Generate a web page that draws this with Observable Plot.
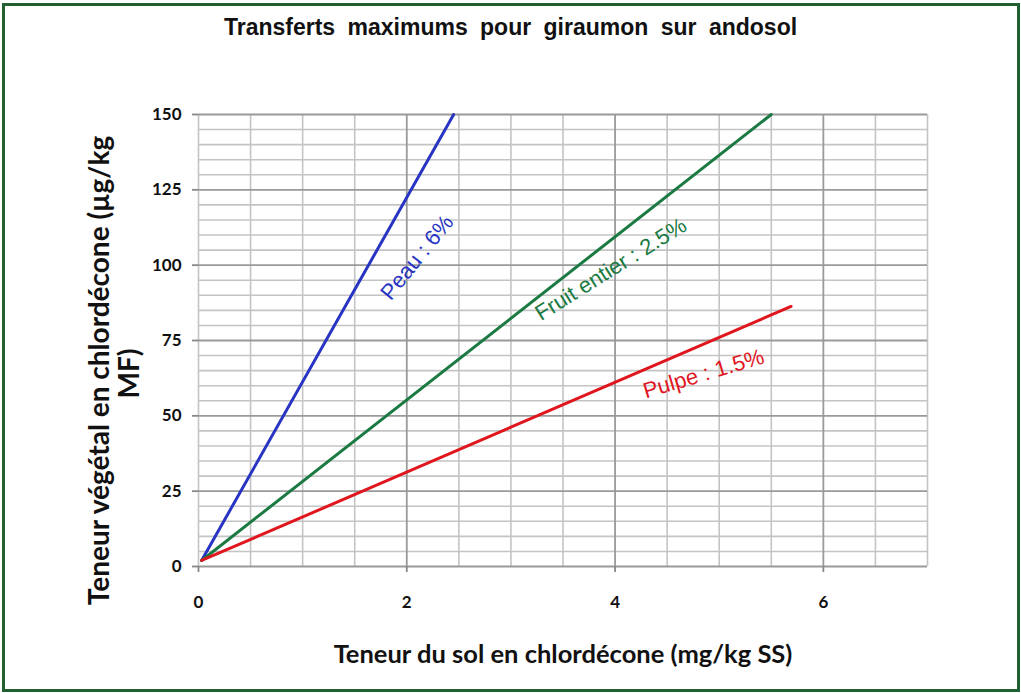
<!DOCTYPE html>
<html>
<head>
<meta charset="utf-8">
<script src="https://cdn.jsdelivr.net/npm/d3@7"></script>
<script src="https://cdn.jsdelivr.net/npm/@observablehq/plot@0.6"></script>
<style>
  html, body { margin: 0; padding: 0; background: #fff; }
  #wrap { position: relative; width: 1021px; height: 693px; overflow: hidden; background: #fff; }
  #border { position: absolute; left: 2px; top: 3px; width: 1012px; height: 683px; border: 3px solid #1f5f31; box-sizing: content-box; }
  #title { position: absolute; left: 0; width: 1021px; top: 14px; text-align: center; font-family: "Liberation Sans", Arial, sans-serif; font-weight: bold; font-size: 23px; word-spacing: 6px; color: #111; }
  #chart { position: absolute; left: 0; top: 0; }
  #chart g[aria-label="x-axis tick label"] text, #chart g[aria-label="y-axis tick label"] text { font-family: Lato, sans-serif; font-weight: bold; font-size: 17px; fill: #111; }
</style>
</head>
<body>
<div id="wrap">
  <div id="border"></div>
  <div id="chart"></div>
  <div id="title">Transferts maximums pour giraumon sur andosol</div>
</div>
<script>
// Data
const seriesNames = ["Peau : 6%", "Fruit entier : 2.5%", "Pulpe : 1.5%"];
const seriesColors = ["#2834c2", "#1a7a42", "#e0161f"];
const peauX = [0.03, 2.45];
const peauY = [2, 150];
const fruitX = [0.03, 5.5];
const fruitY = [2, 150];
const pulpeX = [0.03, 5.69];
const pulpeY = [2, 86.3];

// Label anchors (data coords) and angles
const labelX = [2.1, 3.96, 4.85];
const labelY = [102.5, 98.6, 63.9];
const labelAngle = [-51, -32, -16.5];

// Ticks / grid
const xTicks = [0, 2, 4, 6];
const xGridMinor = [0, 0.5, 1, 1.5, 2.5, 3, 3.5, 4.5, 5, 5.5, 6.5, 7];
const xGridMajor = [2, 4, 6];
const yTicks = [0, 25, 50, 75, 100, 125, 150];
const yGridMinor = [5, 10, 15, 20, 30, 35, 40, 45, 55, 60, 65, 70, 80, 85, 90, 95, 105, 110, 115, 120, 130, 135, 140, 145];

const xTitle = "Teneur du sol en chlordécone (mg/kg SS)";
const yTitle1 = "Teneur végétal en chlordécone (µg/kg";
const yTitle2 = "MF)";

const allX = [peauX, fruitX, pulpeX];
const allY = [peauY, fruitY, pulpeY];
const lines = [];
seriesNames.forEach((name, i) => {
  allX[i].forEach((x, j) => lines.push({ name, x, y: allY[i][j] }));
});
const labels = seriesNames.map((name, i) => ({ name, x: labelX[i], y: labelY[i] }));

const labelFont = "Liberation Sans, Arial, sans-serif";
const titleFont = "Lato, sans-serif";

const chart = Plot.plot({
  width: 1021,
  height: 693,
  marginLeft: 198,
  marginRight: 94,
  marginTop: 114,
  marginBottom: 127,
  x: { domain: [0, 7] },
  y: { domain: [0, 150] },
  color: { domain: seriesNames, range: seriesColors },
  style: { background: "transparent", overflow: "visible", fontFamily: titleFont },
  marks: [
    Plot.ruleX(xGridMinor, { stroke: "#c4c4c4", strokeWidth: 1.6 }),
    Plot.ruleY(yGridMinor, { stroke: "#c4c4c4", strokeWidth: 1.6 }),
    Plot.ruleX(xGridMajor, { stroke: "#9a9a9a", strokeWidth: 1.8 }),
    Plot.ruleY(yTicks, { stroke: "#9a9a9a", strokeWidth: 1.8 }),
    Plot.axisX({ ticks: xTicks, tickFormat: d => String(d), tickSize: 6, tickPadding: 23, label: null, stroke: "#888", strokeWidth: 1.8 }),
    Plot.axisY({ ticks: yTicks, tickFormat: d => String(d), tickSize: 6, tickPadding: 11, label: null, stroke: "#888", strokeWidth: 1.8 }),
    Plot.line(lines, { x: "x", y: "y", z: "name", stroke: "name", strokeWidth: 3 }),
    ...labels.map((d, i) => Plot.text([d], { x: "x", y: "y", text: "name", rotate: labelAngle[i], fill: "name", fontSize: 22, fontFamily: labelFont })),
    Plot.text([xTitle], { frameAnchor: "bottom", dy: 96, dx: 0, text: d => d, fontSize: 25.5, fontWeight: "bold", fill: "#111", fontFamily: titleFont }),
    Plot.text([yTitle1], { frameAnchor: "left", textAnchor: "middle", dx: -98, dy: 30, rotate: -90, text: d => d, fontSize: 28, fontWeight: "bold", fill: "#111", fontFamily: titleFont }),
    Plot.text([yTitle2], { frameAnchor: "left", textAnchor: "middle", dx: -68, dy: 33, rotate: -90, text: d => d, fontSize: 28, fontWeight: "bold", fill: "#111", fontFamily: titleFont })
  ]
});
document.getElementById("chart").appendChild(chart);
</script>
</body>
</html>
